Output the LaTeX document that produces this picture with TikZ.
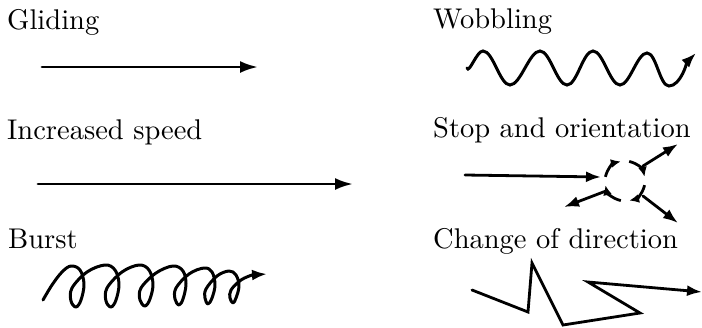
\documentclass[tikz,border=0pt]{standalone}
\usepackage{fontspec}
\setmainfont{lmroman10-regular.otf}
\usetikzlibrary{arrows.meta,calc}
\begin{document}
\begin{tikzpicture}[x=1pt,y=-1pt,
  lbl/.style={anchor=base west,inner sep=0pt,font=\fontsize{28.5pt}{30pt}\selectfont},
  move/.style={line width=2.8pt,line cap=round},
  bigtip/.style={-{Latex[length=18pt,width=12pt]}},
  midtip/.style={-{Latex[length=15pt,width=11pt]}},
  turn/.style={line width=2.8pt,-{Latex[length=10pt,width=9pt]}}]
\useasboundingbox (0,0) rectangle (702,327);

% labels
\node[lbl] (tglide)  at (7,29)    {Gliding};
\node[lbl] (tspeed)  at (7,139)   {Increased speed};
\node[lbl] (tburst)  at (8,248)   {Burst};
\node[lbl] (twobble) at (433,28)  {Wobbling};
\node[lbl] (tstop)   at (433,137) {Stop and orientation};
\node[lbl] (tturn)   at (433,248) {Change of direction};

% gliding
\coordinate (g0) at (42,67);
\coordinate (g1) at (258,67);
\draw[move,bigtip] (g0) -- (g1);

% increased speed
\coordinate (s0) at (38,184);
\coordinate (s1) at (353,184);
\draw[move,bigtip] (s0) -- (s1);

% burst: a tapering coil with narrow hanging loops
\coordinate (b1) at (267,274);
\draw[move,line width=3pt,midtip,line join=round]
  plot[smooth,tension=0.6] coordinates {
    (43,300) (52,285) (62,272) (71,266)
    (80,270) (84,284) (81,300) (76,307) (71,301) (72,288) (87,272)
    (105,265) (115,270) (119,284) (116,300) (111,307) (106,301) (107,288) (122,272)
    (139,265) (149,270) (153,284) (150,299) (145,306) (140,300) (141,288) (156,273)
    (173,266) (183,271) (186,284) (183,299) (179,305) (175,299) (176,288) (189,274)
    (204,268) (212,272) (215,285) (212,298) (208,304) (205,298) (206,289) (217,276)
    (229,271) (236,275) (239,286) (236,298) (233,303) (230,298) (231,290) (241,280)
    (252,275)} -- (b1);

% wobbling
\coordinate (w0) at (467,68);
\coordinate (w1) at (483,51);
\coordinate (w2) at (510,85);
\coordinate (w3) at (540,51);
\coordinate (w4) at (567,85);
\coordinate (w5) at (593,51);
\coordinate (w6) at (620,85);
\coordinate (w7) at (647,53);
\coordinate (w8) at (669,86);
\coordinate (w9) at (696,53);
\draw[move,line width=3pt,midtip]
  (w0) to[out=-70,in=180,looseness=0.7] (w1)
  to[out=0,in=180,looseness=0.6] (w2)
  to[out=0,in=180,looseness=0.6] (w3)
  to[out=0,in=180,looseness=0.6] (w4)
  to[out=0,in=180,looseness=0.6] (w5)
  to[out=0,in=180,looseness=0.6] (w6)
  to[out=0,in=180,looseness=0.6] (w7)
  to[out=0,in=180,looseness=0.6] (w8)
  to[out=0,in=-135,looseness=0.7] (w9);

% stop and orientation
\coordinate (c) at (625,181);
\coordinate (o0) at (465,175);
\coordinate (o1) at (601,177);
\draw[move,midtip] (o0) -- (o1);
\draw[turn] ($(c)+(168:20pt)$) arc[start angle=168,end angle=102,radius=20pt];
\draw[turn] ($(c)+(78:20pt)$)  arc[start angle=78,end angle=12,radius=20pt];
\draw[turn] ($(c)+(-12:20pt)$) arc[start angle=-12,end angle=-78,radius=20pt];
\draw[turn] ($(c)+(-102:20pt)$) arc[start angle=-102,end angle=-168,radius=20pt];
\coordinate (r0) at (643,166);
\coordinate (r1) at (678,144);
\coordinate (d0) at (643,196);
\coordinate (d1) at (678,223);
\coordinate (l0) at (606,191);
\coordinate (l1) at (564,207);
\draw[move,midtip] (r0) -- (r1);
\draw[move,midtip] (d0) -- (d1);
\draw[move,midtip] (l0) -- (l1);

% change of direction
\coordinate (z0) at (472,290);
\coordinate (z1) at (528,312);
\coordinate (z2) at (532,263);
\coordinate (z3) at (563,325);
\coordinate (z4) at (640,313);
\coordinate (z5) at (588,282);
\coordinate (z6) at (702,292);
\draw[move,line width=2.8pt,midtip] (z0) -- (z1) -- (z2) -- (z3) -- (z4) -- (z5) -- (z6);
\end{tikzpicture}
\end{document}
